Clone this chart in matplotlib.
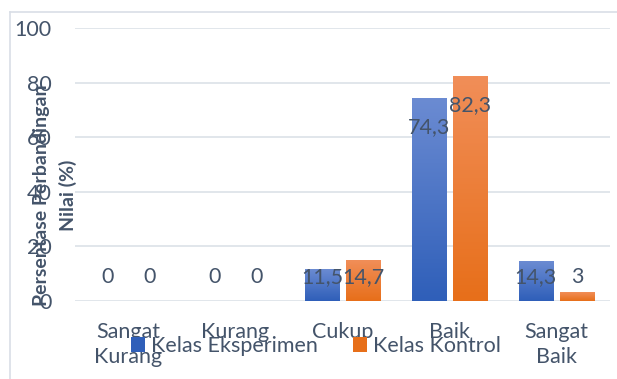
import matplotlib.pyplot as plt
import matplotlib.colors as mcolors
from matplotlib.patches import Patch
from matplotlib.lines import Line2D
import numpy as np

plt.rcParams['font.family'] = ['Lato', 'DejaVu Sans']

# data
categories = ['Sangat\nKurang', 'Kurang', 'Cukup', 'Baik', 'Sangat\nBaik']
eksperimen = [0, 0, 11.5, 74.3, 14.3]
kontrol = [0, 0, 14.7, 82.3, 3]
series_names = ['Kelas Eksperimen', 'Kelas Kontrol']
yticks = [0, 20, 40, 60, 80, 100]

txt_col = '#44546A'
blue_top, blue_bot = '#6B8BD2', '#2F5FB9'
orng_top, orng_bot = '#F18E58', '#E76F1A'
fs = 15.5

fig = plt.figure(figsize=(6.17, 3.79), dpi=100)
W, H = 617, 379
ax = fig.add_axes([75 / W, 1 - 301 / H, (610 - 75) / W, (301 - 28) / H])

x = np.arange(len(categories))
bw = 0.32
gap = 0.065


def grad_bar(xc, h, c_top, c_bot):
    if h <= 0:
        return
    cmap = mcolors.LinearSegmentedColormap.from_list('g', [c_bot, c_top])
    g = np.linspace(0, 1, 100).reshape(-1, 1)
    ax.imshow(g, cmap=cmap, origin='lower', aspect='auto',
              extent=[xc - bw / 2, xc + bw / 2, 0, h], zorder=3)


for i in range(len(categories)):
    xb = x[i] - (bw + gap) / 2
    xo = x[i] + (bw + gap) / 2
    grad_bar(xb, eksperimen[i], blue_top, blue_bot)
    grad_bar(xo, kontrol[i], orng_top, orng_bot)
    for xc, v in [(xb, eksperimen[i]), (xo, kontrol[i])]:
        lbl = ('%g' % v).replace('.', ',')
        ax.text(xc, max(v - 10.5, 8.8), lbl, ha='center', va='center',
                fontsize=fs, color=txt_col, zorder=5)

ax.set_xlim(-0.5, len(categories) - 0.5)
ax.set_ylim(0, 100)
ax.set_yticks(yticks)
ax.set_yticklabels([str(t) for t in yticks], fontsize=fs, color=txt_col)
ax.set_xticks(x)
ax.set_xticklabels(categories, fontsize=fs, color=txt_col, linespacing=1.35)
ax.tick_params(axis='both', length=0)
ax.tick_params(axis='y', pad=17)
ax.tick_params(axis='x', pad=15)
ax.grid(axis='y', color='#DCE1E8', linewidth=1.2, zorder=0)
ax.set_axisbelow(True)
for s in ax.spines.values():
    s.set_visible(False)

fig.text(55 / W, 1 - 195 / H, 'Persentase Perbandingan\nNilai (%)',
         rotation=90, ha='center', va='center', multialignment='center',
         fontsize=14, fontweight='bold', color=txt_col, linespacing=1.55)

handles = [Patch(facecolor=blue_bot, edgecolor='none'),
           Patch(facecolor=orng_bot, edgecolor='none')]
fig.legend(handles, series_names, loc='center', bbox_to_anchor=(316 / W, 1 - 346 / H),
           ncol=2, frameon=False, fontsize=fs, handlelength=0.65, handleheight=0.65,
           handletextpad=0.3, columnspacing=1.6, labelcolor=txt_col)

# chart border
fig.add_artist(Line2D([10 / W, 10 / W], [0, 1 - 12 / H], color='#D9DEE6', lw=1.2))
fig.add_artist(Line2D([10 / W, 1], [1 - 12 / H, 1 - 12 / H], color='#D9DEE6', lw=1.2))

fig.savefig('out.png', dpi=100)
